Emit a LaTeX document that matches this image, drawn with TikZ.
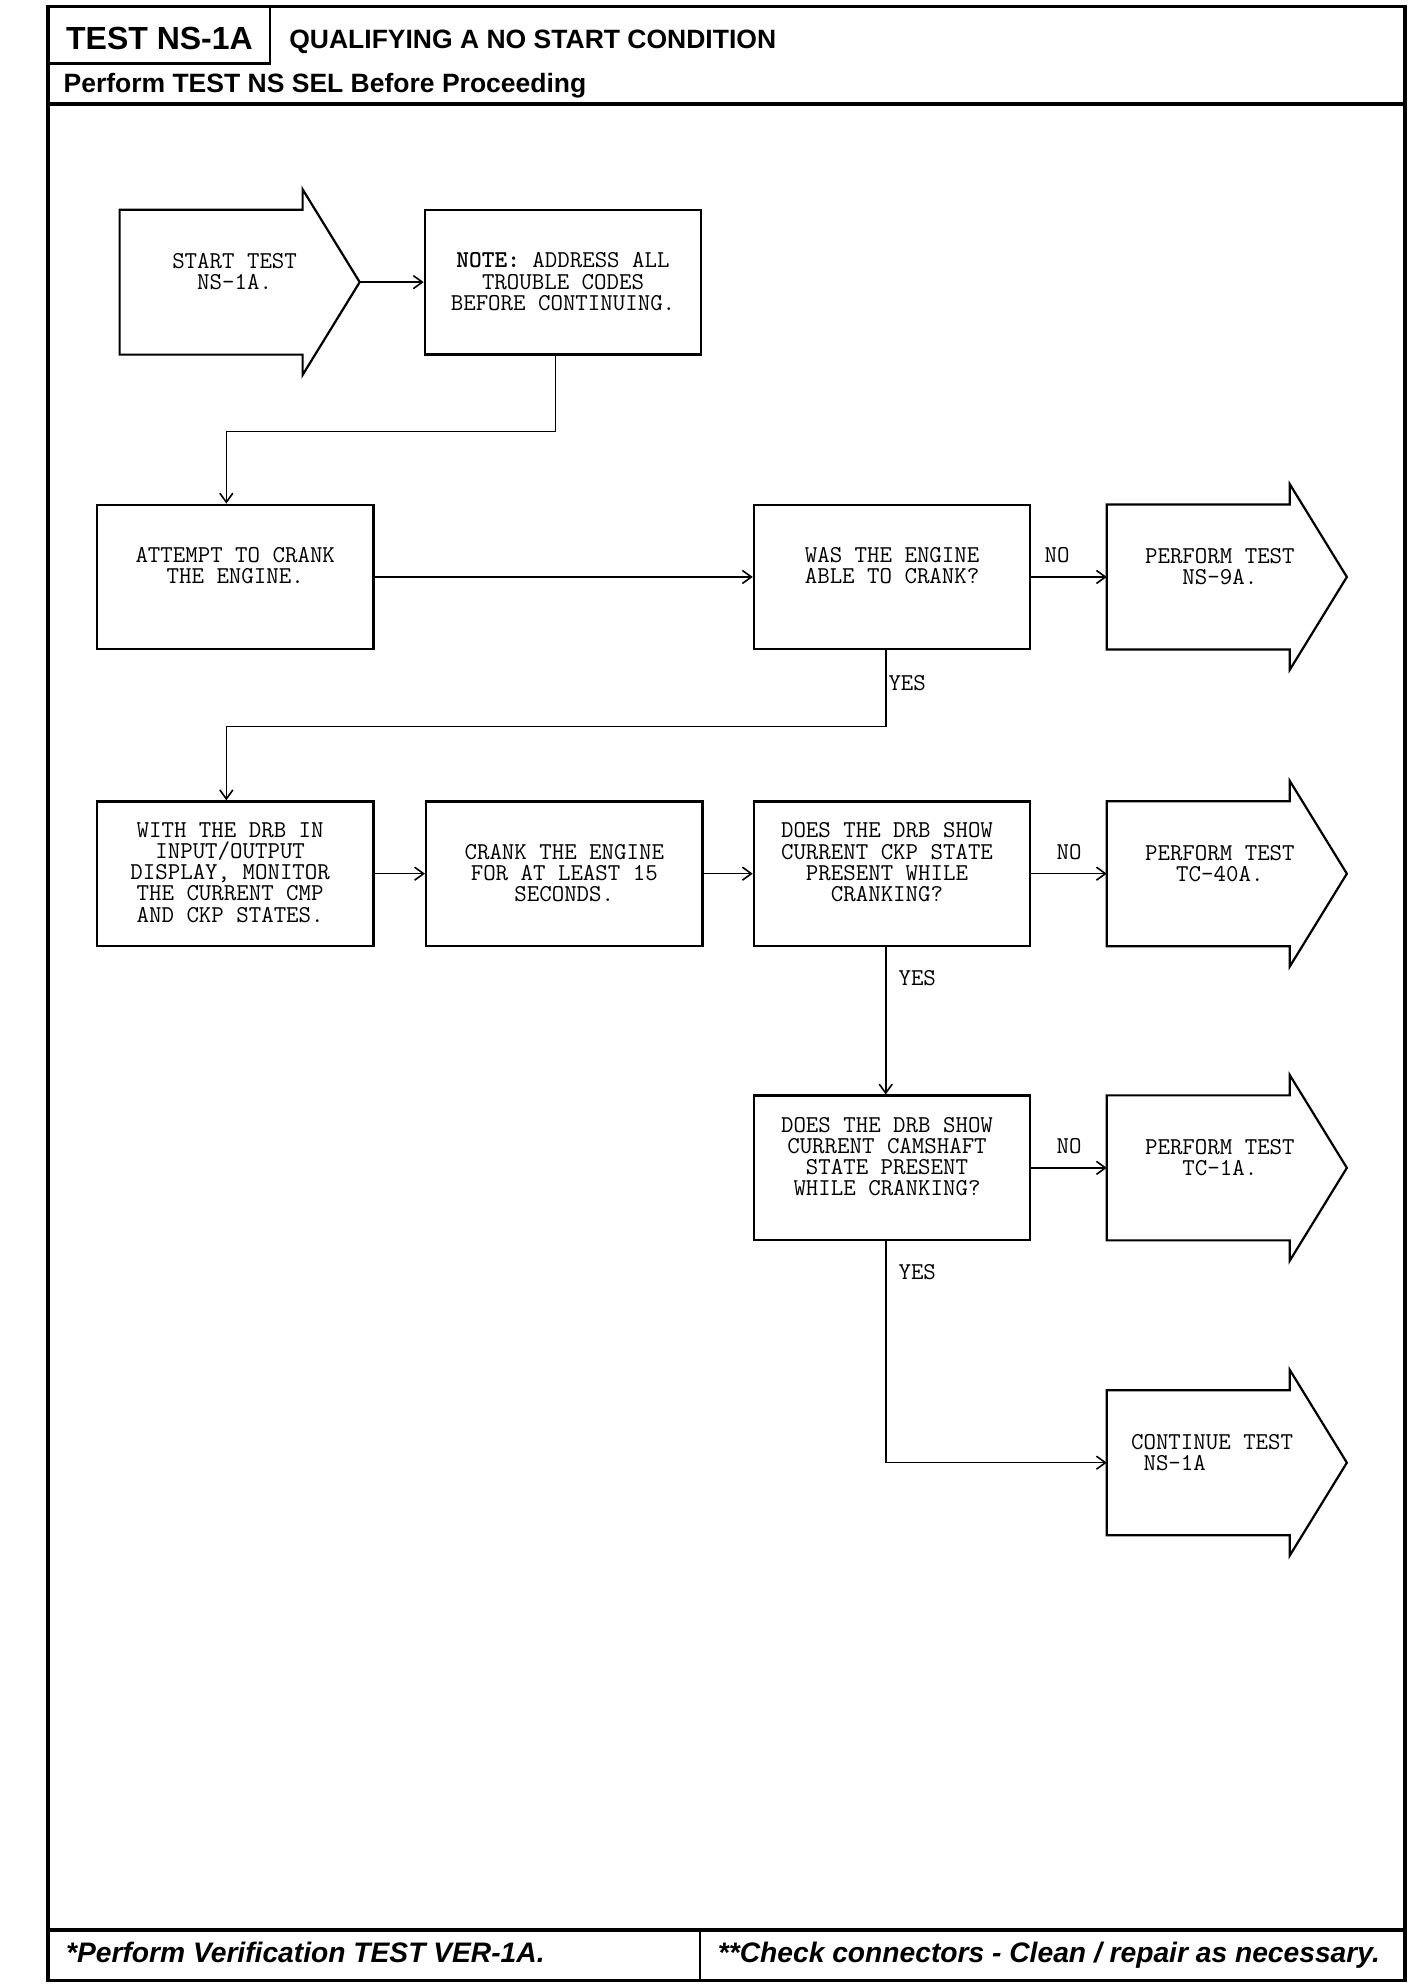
\documentclass[tikz,border=0pt]{standalone}
\usepackage{fontspec}
\newfontfamily\headfont{Liberation Sans}
\usetikzlibrary{calc,arrows.meta}
\newcommand{\pxu}{1.268pt}
\newcommand{\flowtext}{\ttfamily\fontsize{24.2}{21.1}\selectfont}
\tikzset{
  frame/.style={line width=3.4pt},
  rule/.style={line width=2.4pt},
  head/.style={anchor=base west, inner sep=0pt},
  stepbox/.style={draw, line width=2.2pt, minimum width=218*\pxu, minimum height=114*\pxu, inner sep=0pt},
  testbody/.style={minimum width=144*\pxu, minimum height=114*\pxu, inner sep=0pt},
  outline/.style={line width=2.2pt, line join=miter},
  boxtext/.style={anchor=north, align=center, inner sep=0pt, font=\flowtext},
  flow/.style={line width=1.6pt, -{Straight Barb[length=9pt,width=13pt]}},
  nolbl/.style={font=\flowtext, inner sep=0pt, midway, above=13pt},
  yeslbl/.style={font=\flowtext, inner sep=0pt, anchor=west},
}
\begin{document}
\begin{tikzpicture}[x=\pxu, y=-\pxu]
\useasboundingbox (0,0) rectangle (1123,1566.2);
% page frame, header and footer
\draw[frame] (38,5) rectangle (1108,1562);
\draw[frame] (38,82) -- (1108,82);
\draw[frame] (38,1522) -- (1108,1522);
\draw[rule] (213,5) -- (213,50) -- (38,50);
\draw[rule] (552,1522) -- (552,1562);
\node[head, font=\headfont\bfseries\fontsize{32}{36}\selectfont] (testno) at (52,39) {TEST NS-1A};
\node[head, font=\headfont\bfseries\fontsize{26.5}{30}\selectfont] (title) at (228,38) {QUALIFYING A NO START CONDITION};
\node[head, font=\headfont\bfseries\fontsize{26.5}{30}\selectfont] (presel) at (50,73) {Perform TEST NS SEL Before Proceeding};
\node[head, font=\headfont\bfseries\itshape\fontsize{28.2}{32}\selectfont] (verify) at (52,1548) {*Perform Verification TEST VER-1A.};
\node[head, font=\headfont\bfseries\itshape\fontsize{28.2}{32}\selectfont] (check) at (566,1548) {**Check connectors - Clean / repair as necessary.};

% boxes
\node[testbody] (start) at (166.5,222.5) {};
\node[stepbox] (note) at (444,222.5) {};
\node[stepbox] (attempt) at (185.5,455) {};
\node[stepbox] (was) at (703.5,455) {};
\node[testbody] (ns9) at (945,455) {};
\node[stepbox] (with) at (185.5,689) {};
\node[stepbox] (crank) at (445,689) {};
\node[stepbox] (does1) at (703.5,689) {};
\node[testbody] (tc40) at (945,689) {};
\node[stepbox] (does2) at (703.5,921) {};
\node[testbody] (tc1) at (945,921) {};
\node[testbody] (cont) at (945,1153.5) {};
% arrow shaped outlines
\foreach \n in {start,ns9,tc40,tc1,cont}
  \draw[outline] (\n.south west) -- (\n.north west) -- (\n.north east) -- ++(0,-16)
    -- ($(\n.east)+(45,0)$) -- ($(\n.south east)+(0,16)$) -- (\n.south east) -- cycle;

% texts
\node[boxtext] (start-t) at ($(start.north)+(18.5,34.6)$) {START TEST\\NS-1A.};
\node[boxtext] (note-t) at ($(note.north)+(0,34.6)$) {{\bfseries NOTE:} ADDRESS ALL\\TROUBLE CODES\\BEFORE CONTINUING.};
\node[boxtext] (attempt-t) at ($(attempt.north)+(0,34.6)$) {ATTEMPT TO CRANK\\THE ENGINE.};
\node[boxtext] (was-t) at ($(was.north)+(0,34.6)$) {WAS THE ENGINE\\ABLE TO CRANK?};
\node[boxtext] (ns9-t) at ($(ns9.north)+(17,34.6)$) {PERFORM TEST\\NS-9A.};
\node[boxtext] (with-t) at ($(with.north)+(-4,17.6)$) {WITH THE DRB IN\\INPUT/OUTPUT\\DISPLAY, MONITOR\\THE CURRENT CMP\\AND CKP STATES.};
\node[boxtext] (crank-t) at ($(crank.north)+(0,34.6)$) {CRANK THE ENGINE\\FOR AT LEAST 15\\SECONDS.};
\node[boxtext] (does1-t) at ($(does1.north)+(-4,17.6)$) {DOES THE DRB SHOW\\CURRENT CKP STATE\\PRESENT WHILE\\CRANKING?};
\node[boxtext] (tc40-t) at ($(tc40.north)+(17,34.6)$) {PERFORM TEST\\TC-40A.};
\node[boxtext] (does2-t) at ($(does2.north)+(-4,17.6)$) {DOES THE DRB SHOW\\CURRENT CAMSHAFT\\STATE PRESENT\\WHILE CRANKING?};
\node[boxtext] (tc1-t) at ($(tc1.north)+(17,34.6)$) {PERFORM TEST\\TC-1A.};
\node[boxtext, anchor=north west, align=left] (cont-t) at ($(cont.north west)+(19,34.6)$) {CONTINUE TEST\\~NS-1A};

% connectors
\coordinate (start-tip) at ($(start.east)+(45,0)$);
\draw[flow] (start-tip) -- (note.west);
\draw[flow] ([xshift=-6*\pxu]note.south) -- ++(0,60) -| ([xshift=-7*\pxu]attempt.north);
\draw[flow] (attempt.east) -- (was.west);
\draw[flow] (was.east) -- node[nolbl, xshift=-12pt] {NO} (ns9.west);
\draw[flow] ([xshift=-5*\pxu]was.south) -- node[yeslbl, pos=0.43, xshift=2pt] {YES} ++(0,60) -| ([xshift=-7*\pxu]with.north);
\draw[flow] (with.east) -- (crank.west);
\draw[flow] (crank.east) -- (does1.west);
\draw[flow] (does1.east) -- node[nolbl] {NO} (tc40.west);
\draw[flow] ([xshift=-5*\pxu]does1.south) -- node[yeslbl, pos=0.21, xshift=12pt] {YES} ([xshift=-5*\pxu]does2.north);
\draw[flow] (does2.east) -- node[nolbl] {NO} (tc1.west);
\draw[flow] ([xshift=-5*\pxu]does2.south) |- node[yeslbl, pos=0.07, xshift=12pt] {YES} (cont.west);
\end{tikzpicture}
\end{document}
